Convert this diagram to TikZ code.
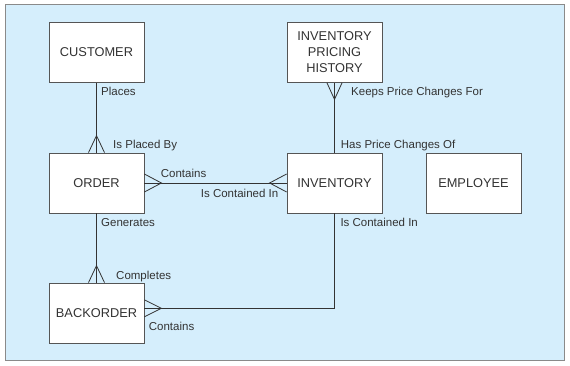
\documentclass[tikz,border=0pt]{standalone}
\usepackage{fontspec}
\setmainfont{Liberation Sans}
\usetikzlibrary{calc}
\definecolor{bg}{HTML}{D5EEFC}
\definecolor{framec}{HTML}{8A8A8A}
\definecolor{boxc}{HTML}{555555}
\definecolor{linec}{HTML}{333333}
\begin{document}
\begin{tikzpicture}[x=1pt,y=-1pt,
  entity/.style={draw=boxc, fill=white, line width=0.8pt, minimum width=95pt, minimum height=60pt, inner sep=0pt, align=center, text=black!80, font=\fontsize{12.8}{16}\selectfont},
  rel/.style={draw=linec, line width=0.8pt},
  lbl/.style={anchor=base west, inner sep=0pt, font=\fontsize{11.5}{13}\selectfont, text=black!80}]
\useasboundingbox (0,0) rectangle (570,366);
\draw[framec, fill=bg, line width=1pt] (5,4.5) rectangle (564.5,360.5);
% entities
\node[entity] (cust) at (96.5,52.5) {CUSTOMER};
\node[entity] (order) at (96.5,183) {ORDER};
\node[entity] (back) at (96.5,313) {BACKORDER};
\node[entity] (iph) at (334.5,52.5) {INVENTORY\\PRICING\\HISTORY};
\node[entity] (inv) at (334.5,183) {INVENTORY};
\node[entity] (emp) at (473.5,183) {EMPLOYEE};
% CUSTOMER - ORDER
\draw[rel] (cust.south) -- (order.north);
\coordinate (c1) at ($(order.north)+(0,-17)$);
\draw[rel] ($(order.north)+(-8,0)$) -- (c1) -- ($(order.north)+(8,0)$);
% ORDER - INVENTORY
\draw[rel] (order.east) -- (inv.west);
\coordinate (c2) at ($(order.east)+(17,0)$);
\draw[rel] ($(order.east)+(0,-9)$) -- (c2) -- ($(order.east)+(0,9)$);
\coordinate (c3) at ($(inv.west)+(-17,0)$);
\draw[rel] ($(inv.west)+(0,-9)$) -- (c3) -- ($(inv.west)+(0,9)$);
% IPH - INVENTORY
\draw[rel] (iph.south) -- (inv.north);
\coordinate (c4) at ($(iph.south)+(0,16.5)$);
\draw[rel] ($(iph.south)+(-7.5,0)$) -- (c4) -- ($(iph.south)+(7.5,0)$);
% ORDER - BACKORDER
\draw[rel] (order.south) -- (back.north);
\coordinate (c5) at ($(back.north)+(0,-17)$);
\draw[rel] ($(back.north)+(-8,0)$) -- (c5) -- ($(back.north)+(8,0)$);
% BACKORDER - INVENTORY
\coordinate (bk) at ($(back.east)+(0,-4.7)$);
\draw[rel] (bk) -- (bk -| inv.south) -- (inv.south);
\coordinate (c6) at ($(bk)+(17,0)$);
\draw[rel] ($(bk)+(0,-8.5)$) -- (c6) -- ($(bk)+(0,8.5)$);
% labels
\node[lbl] (l1) at (101,96) {Places};
\node[lbl] (l2) at (113,149) {Is Placed By};
\node[lbl] (l3) at (160.7,178) {Contains};
\node[lbl] (l4) at (200.7,197) {Is Contained In};
\node[lbl] (l5) at (101,226.7) {Generates};
\node[lbl] (l6) at (116,279) {Completes};
\node[lbl] (l7) at (148.7,330) {Contains};
\node[lbl] (l8) at (351,95.7) {Keeps Price Changes For};
\node[lbl] (l9) at (340.7,149) {Has Price Changes Of};
\node[lbl] (l10) at (340.3,226.7) {Is Contained In};
\end{tikzpicture}
\end{document}
